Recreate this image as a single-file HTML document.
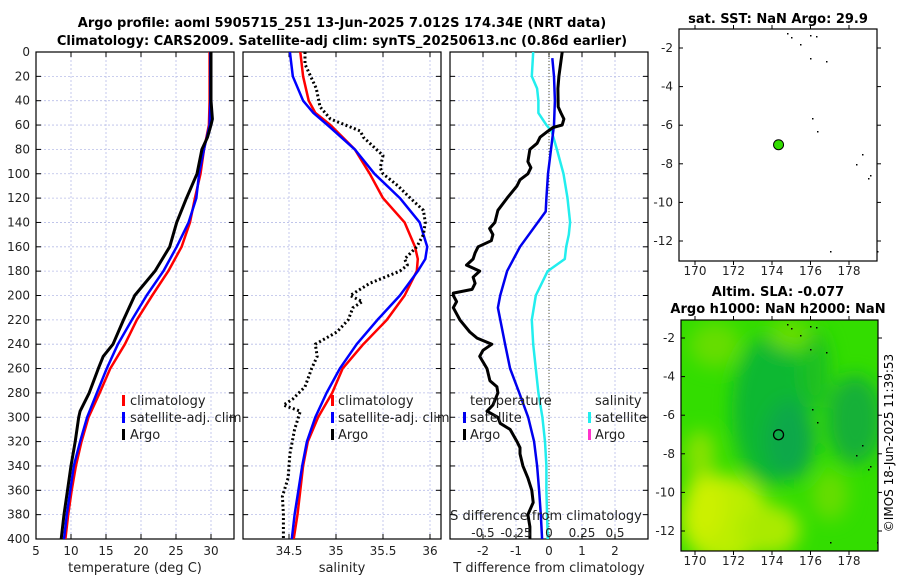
<!DOCTYPE html>
<html><head><meta charset="utf-8">
<style>
html,body{margin:0;padding:0;background:#fff;}
svg{display:block;font-family:"DejaVu Sans","Liberation Sans",sans-serif;}
</style></head>
<body>
<svg id="fig" width="900" height="580" viewBox="0 0 900 580" xmlns="http://www.w3.org/2000/svg">
<defs>
<filter id="blur" x="-20%" y="-20%" width="140%" height="140%"><feGaussianBlur stdDeviation="9"/></filter>
<clipPath id="clipMap2"><rect x="681" y="320" width="197" height="231"/></clipPath>
<clipPath id="clipP1"><rect x="36" y="52" width="198" height="487"/></clipPath>
<clipPath id="clipP2"><rect x="243" y="52" width="198" height="487"/></clipPath>
<clipPath id="clipP3"><rect x="450" y="52" width="198" height="487"/></clipPath>
</defs>
<text x="342" y="27" text-anchor="middle" font-size="13" font-weight="bold">Argo profile: aoml 5905715_251 13-Jun-2025 7.012S 174.34E (NRT data)</text>
<text x="342" y="45" text-anchor="middle" font-size="13" font-weight="bold">Climatology: CARS2009. Satellite-adj clim: synTS_20250613.nc (0.86d earlier)</text>
<text x="778" y="23" text-anchor="middle" font-size="13" font-weight="bold">sat. SST: NaN Argo: 29.9</text>
<text x="778" y="296" text-anchor="middle" font-size="13" font-weight="bold">Altim. SLA: -0.077</text>
<text x="778" y="313" text-anchor="middle" font-size="13" font-weight="bold">Argo h1000: NaN h2000: NaN</text>
<text transform="translate(893,443) rotate(-90)" text-anchor="middle" font-size="12">©IMOS 18-Jun-2025 11:39:53</text>
<g id="root"></g>
</svg>
<script>
// ---- data ----
const depthTicks = [0,20,40,60,80,100,120,140,160,180,200,220,240,260,280,300,320,340,360,380,400];
const tempTicks = [5,10,15,20,25,30];
const salTicks = [34.5,35,35.5,36];
const tdiffTicks = [-2,-1,0,1,2];
const sdiffTicks = [-0.5,-0.25,0,0.25,0.5];
const sdiffTickLabels = ["-0.5","-0.25","0","0.25","0.5"];
const lonTicks = [170,172,174,176,178];
const latTicks = [-2,-4,-6,-8,-10,-12];

const climDepth = [0,20,40,60,80,100,120,140,160,180,200,220,240,260,280,300,320,340,360,380,400];
const climTemp = [29.8,29.8,29.8,29.7,29.0,28.5,27.7,27.0,25.8,23.9,21.6,19.4,17.7,15.6,14.1,12.5,11.5,10.7,10.1,9.6,9.2];
const satTemp  = [29.9,29.9,29.9,29.8,29.0,28.3,27.9,26.8,25.1,23.2,20.8,18.7,16.7,15.1,13.7,12.3,11.3,10.4,9.9,9.4,9.0];
const argoTDepth = [0,20,40,55,60,70,80,100,120,140,160,180,200,220,240,250,260,280,295,300,320,340,360,380,400];
const argoTemp   = [30.0,30.0,30.0,30.2,30.0,29.5,28.7,28.0,26.5,25.1,24.1,22.0,19.1,17.5,16.0,14.6,13.9,12.6,11.3,11.1,10.6,10.0,9.5,9.0,8.6];

const climSalDepth = [0,20,40,50,60,80,100,120,140,160,170,180,200,220,240,260,280,300,320,340,360,380,400];
const climSal = [34.62,34.65,34.71,34.78,34.94,35.2,35.36,35.5,35.73,35.84,35.87,35.86,35.73,35.54,35.29,35.07,34.96,34.81,34.7,34.65,34.62,34.59,34.55];
const satSal  = [34.51,34.54,34.65,34.76,34.91,35.2,35.41,35.68,35.89,35.97,35.95,35.87,35.68,35.44,35.22,35.04,34.9,34.78,34.69,34.64,34.6,34.56,34.53];
const argoSDepth = [0,10,30,45,55,60,65,70,85,95,100,110,120,130,140,150,160,170,175,180,190,200,205,210,220,230,240,250,260,275,285,290,295,310,330,350,365,380,400];
const argoSal = [34.67,34.67,34.79,34.83,34.94,35.1,35.26,35.29,35.5,35.47,35.5,35.66,35.79,35.93,35.95,35.93,35.86,35.73,35.76,35.68,35.36,35.15,35.28,35.18,35.13,35.01,34.78,34.8,34.74,34.67,34.54,34.44,34.62,34.56,34.51,34.49,34.43,34.44,34.44];

const satTDiffDepth = [5,20,40,60,80,100,120,131,160,180,200,210,240,260,280,300,320,340,360,380,400];
const satTDiff = [0.1,0.15,0.18,0.15,0.06,-0.03,-0.08,-0.1,-0.88,-1.27,-1.48,-1.55,-1.33,-1.18,-0.9,-0.63,-0.45,-0.36,-0.3,-0.25,-0.21];
const satSDiffDepth = [0,20,30,40,50,60,65,80,100,120,140,150,160,170,180,200,220,240,260,280,300,320,340,360,400];
const satSDiff = [-0.12,-0.13,-0.09,-0.08,-0.08,-0.02,0.02,0.06,0.11,0.14,0.16,0.15,0.13,0.12,-0.01,-0.1,-0.13,-0.12,-0.1,-0.08,-0.05,-0.03,-0.02,-0.02,-0.01];
const argoTDiffDepth = [0,20,30,45,50,55,60,62,65,70,75,80,90,95,100,105,110,120,130,140,145,150,155,160,165,170,175,180,185,190,195,198,200,205,210,220,230,235,240,245,250,260,270,275,280,290,295,300,305,310,320,325,330,340,350,360,370,380,390,400];
const argoTDiff = [0.4,0.3,0.27,0.28,0.36,0.45,0.4,0.12,-0.03,-0.27,-0.36,-0.58,-0.64,-0.55,-0.64,-0.88,-0.97,-1.27,-1.55,-1.64,-1.8,-1.7,-1.75,-2.15,-2.24,-2.3,-2.5,-2.1,-2.3,-2.24,-2.33,-2.9,-2.9,-2.8,-2.9,-2.7,-2.4,-2.18,-1.73,-2.0,-2.1,-1.88,-1.79,-1.58,-1.55,-1.7,-1.88,-1.55,-1.48,-1.18,-0.97,-0.88,-0.88,-0.79,-0.64,-0.52,-0.48,-0.64,-0.58,-0.58];

const floatLon = 174.34;
const floatLat = -7.012;

// ---- helpers ----
const NS = "http://www.w3.org/2000/svg";
const root = document.getElementById('root');
function mk(tag, attrs, parent){
  const e = document.createElementNS(NS, tag);
  for (const k in attrs) e.setAttribute(k, attrs[k]);
  (parent||root).appendChild(e);
  return e;
}
const PT = 52, PB = 539;
const yD = d => PT + d*(PB-PT)/400;
function linX(d0,d1,p0,p1){ return v => p0 + (v-d0)*(p1-p0)/(d1-d0); }
const xT = linX(5,30,36,211);
const xS = linX(34.5,36,289,430);
const xTD = linX(0,1,549,582);
const xSD = linX(0,1,549,681);

function panelFrame(x0, name, xticks, xfun, showY){
  const g = mk('g', {});
  
  
  depthTicks.forEach(d=>{
    const gl = mk('line',{x1:x0,x2:x0+198,y1:yD(d),y2:yD(d),stroke:'#b8bde8','stroke-width':0.8,'stroke-dasharray':'2,2'},g);
    
    
    mk('line',{x1:x0,x2:x0+5,y1:yD(d),y2:yD(d),stroke:'#000'},g);
    mk('line',{x1:x0+198,x2:x0+193,y1:yD(d),y2:yD(d),stroke:'#000'},g);
    if(showY){
      const t = mk('text',{x:x0-6,y:yD(d)+4,'text-anchor':'end','font-size':12,fill:'#222'},g);
      t.textContent = d;
      
      
    }
  });
  xticks.forEach(v=>{
    const x = xfun(v);
    const gl = mk('line',{x1:x,x2:x,y1:PT,y2:PB,stroke:'#b8bde8','stroke-width':0.8,'stroke-dasharray':'2,2'},g);
    
    
    mk('line',{x1:x,x2:x,y1:PB,y2:PB-5,stroke:'#000'},g);
    mk('line',{x1:x,x2:x,y1:PT,y2:PT+5,stroke:'#000'},g);
    const t = mk('text',{x:x,y:555,'text-anchor':'middle','font-size':12,fill:'#222'},g);
    t.textContent = v;
    
    
  });
  const fr = mk('rect',{x:x0,y:PT,width:198,height:PB-PT,fill:'none',stroke:'#000','stroke-width':1.2},g);
  
  
  return g;
}
function polyline(xs, ds, xf, attrs, name, clip){
  const pts = xs.map((v,i)=>xf(v).toFixed(1)+','+yD(ds[i]).toFixed(1)).join(' ');
  const a = Object.assign({points:pts,fill:'none','stroke-linejoin':'round','clip-path':'url(#'+clip+')'}, attrs);
  const p = mk('polyline', a);
  
  
  return p;
}
function label(x,y,txt,name,opts){
  const t = mk('text', Object.assign({x:x,y:y,'font-size':13,fill:'#222'}, opts||{}));
  t.textContent = txt;
  
  
  return t;
}
function marker(x,y,color,name){
  const r = mk('rect',{x:x,y:y-10,width:3,height:11,fill:color});
  
  
}

// ---- panel 1: temperature ----
panelFrame(36,'temperature-panel',tempTicks,xT,true);
polyline(climTemp, climDepth, xT, {stroke:'#ff0000','stroke-width':2.5}, 'temp-climatology-line','clipP1');
polyline(satTemp, climDepth, xT, {stroke:'#0000ff','stroke-width':2.5}, 'temp-satellite-line','clipP1');
polyline(argoTemp, argoTDepth, xT, {stroke:'#000','stroke-width':3}, 'temp-argo-line','clipP1');
label(135,572,'temperature (deg C)','temperature-axis-title',{'text-anchor':'middle'});
marker(122,405,'#ff0000','legend-marker-climatology'); label(130,405,'climatology','legend-climatology');
marker(122,422,'#0000ff','legend-marker-satellite'); label(130,422,'satellite-adj. clim','legend-satellite');
marker(122,439,'#000','legend-marker-argo'); label(130,439,'Argo','legend-argo');

// ---- panel 2: salinity ----
panelFrame(243,'salinity-panel',salTicks,xS,false);
polyline(climSal, climSalDepth, xS, {stroke:'#ff0000','stroke-width':2.5}, 'sal-climatology-line','clipP2');
polyline(satSal, climSalDepth, xS, {stroke:'#0000ff','stroke-width':2.5}, 'sal-satellite-line','clipP2');
polyline(argoSal, argoSDepth, xS, {stroke:'#000','stroke-width':3,'stroke-dasharray':'2,2.5'}, 'sal-argo-line','clipP2');
label(342,572,'salinity','salinity-axis-title',{'text-anchor':'middle'});
marker(331,405,'#ff0000','legend2-marker-climatology'); label(338,405,'climatology','legend2-climatology');
marker(331,422,'#0000ff','legend2-marker-satellite'); label(338,422,'satellite-adj. clim','legend2-satellite');
marker(331,439,'#000','legend2-marker-argo'); label(338,439,'Argo','legend2-argo');

// ---- panel 3: differences ----
panelFrame(450,'difference-panel',tdiffTicks,xTD,false);
const zl = mk('line',{x1:549,x2:549,y1:PT,y2:PB,stroke:'#555533','stroke-width':1,'stroke-dasharray':'1,2'});


polyline(satSDiff, satSDiffDepth, xSD, {stroke:'#22eeee','stroke-width':2.5}, 'sdiff-satellite-line','clipP3');
polyline(satTDiff, satTDiffDepth, xTD, {stroke:'#0000ee','stroke-width':2.5}, 'tdiff-satellite-line','clipP3');
polyline(argoTDiff, argoTDiffDepth, xTD, {stroke:'#000','stroke-width':3}, 'tdiff-argo-line','clipP3');
label(549,572,'T difference from climatology','tdiff-axis-title',{'text-anchor':'middle'});
label(546,520,'S difference from climatology','sdiff-axis-title',{'text-anchor':'middle'});
sdiffTicks.forEach((v,i)=>{
  label(xTD(tdiffTicks[i]),537,sdiffTickLabels[i],'sdiff-tick-label',{'text-anchor':'middle','font-size':12});
});
label(470,405,'temperature','legend3-temperature-header');
marker(463,422,'#0000ee','legend3-marker-tsat'); label(470,422,'satellite','legend3-tsat');
marker(463,439,'#000','legend3-marker-targo'); label(470,439,'Argo','legend3-targo');
label(595,405,'salinity','legend3-salinity-header');
marker(588,422,'#22eeee','legend3-marker-ssat'); label(595,422,'satellite','legend3-ssat');
marker(588,439,'#ff33cc','legend3-marker-sargo'); label(595,439,'Argo','legend3-sargo');

// ---- maps ----
const xLon1 = linX(170,178,695,849);
const yLat1 = linX(-2,-12,48,241);
const xLon2 = linX(170,178,695,849);
const yLat2 = linX(-2,-12,338,531);
function mapFrame(x0,y0,w,h,yl,name,labelY){
  const g = mk('g',{});
  
  
  latTicks.forEach(v=>{
    const y = yl(v);
    mk('line',{x1:x0,x2:x0+4,y1:y,y2:y,stroke:'#000'},g);
    mk('line',{x1:x0+w,x2:x0+w+4,y1:y,y2:y,stroke:'#000'},g);
    const t = mk('text',{x:x0-6,y:y+4,'text-anchor':'end','font-size':12,fill:'#222'},g);
    t.textContent = v;
    
    
  });
  lonTicks.forEach(v=>{
    const x = xLon1(v);
    mk('line',{x1:x,x2:x,y1:y0+h,y2:y0+h+4,stroke:'#000'},g);
    mk('line',{x1:x,x2:x,y1:y0,y2:y0-4,stroke:'#000'},g);
    const t = mk('text',{x:x,y:labelY,'text-anchor':'middle','font-size':12,fill:'#222'},g);
    t.textContent = v;
    
    
  });
  const r = mk('rect',{x:x0,y:y0,width:w,height:h,fill:'none',stroke:'#000','stroke-width':1.2},g);
  
  
}
// map 2 field (approximate SLA colors)
const field = mk('g',{'clip-path':'url(#clipMap2)'});


mk('rect',{x:681,y:320,width:197,height:231,fill:'#33dd00'},field);
const blobs = mk('g',{filter:'url(#blur)'},field);
mk('ellipse',{cx:770,cy:410,rx:38,ry:75,fill:'#11b833'},blobs);
mk('ellipse',{cx:790,cy:440,rx:25,ry:40,fill:'#10a848'},blobs);
mk('ellipse',{cx:855,cy:420,rx:28,ry:45,fill:'#12b038'},blobs);
mk('ellipse',{cx:815,cy:370,rx:15,ry:40,fill:'#1cc020'},blobs);
mk('ellipse',{cx:725,cy:520,rx:45,ry:45,fill:'#bbee00'},blobs);
mk('ellipse',{cx:770,cy:530,rx:30,ry:25,fill:'#aaea00'},blobs);
mk('ellipse',{cx:705,cy:505,rx:20,ry:35,fill:'#ccf000'},blobs);
mk('ellipse',{cx:700,cy:455,rx:15,ry:25,fill:'#88e200'},blobs);
mk('ellipse',{cx:715,cy:345,rx:25,ry:22,fill:'#66dd00'},blobs);
mk('ellipse',{cx:790,cy:335,rx:22,ry:15,fill:'#66dd00'},blobs);
mk('ellipse',{cx:830,cy:495,rx:18,ry:25,fill:'#66dd00'},blobs);
mfSplit = null;
mapFrame(679,29,198,232,yLat1,'sst-map',275);
mapFrame(681,320,197,231,yLat2,'sla-map',565);
// float position markers
const fp1 = mk('circle',{cx:xLon1(floatLon),cy:yLat1(floatLat),r:5,fill:'#33dd00',stroke:'#000','stroke-width':1});


const fp2 = mk('circle',{cx:xLon2(floatLon),cy:yLat2(floatLat),r:5,fill:'none',stroke:'#000','stroke-width':1.3});


// island specks
[[787,33],[791,37],[810,35],[816,36],[800,44],[810,58],[826,61],[812,118],[817,131],[862,154],[856,164],[870,175],[868,178],[830,251],[877,251]].forEach(p=>{
  mk('rect',{x:p[0],y:p[1],width:1.5,height:1.5,fill:'#000'});
  mk('rect',{x:p[0],y:p[1]+291,width:1.5,height:1.5,fill:'#000','clip-path':'url(#clipMap2)'});
});
</script>
</body></html>
